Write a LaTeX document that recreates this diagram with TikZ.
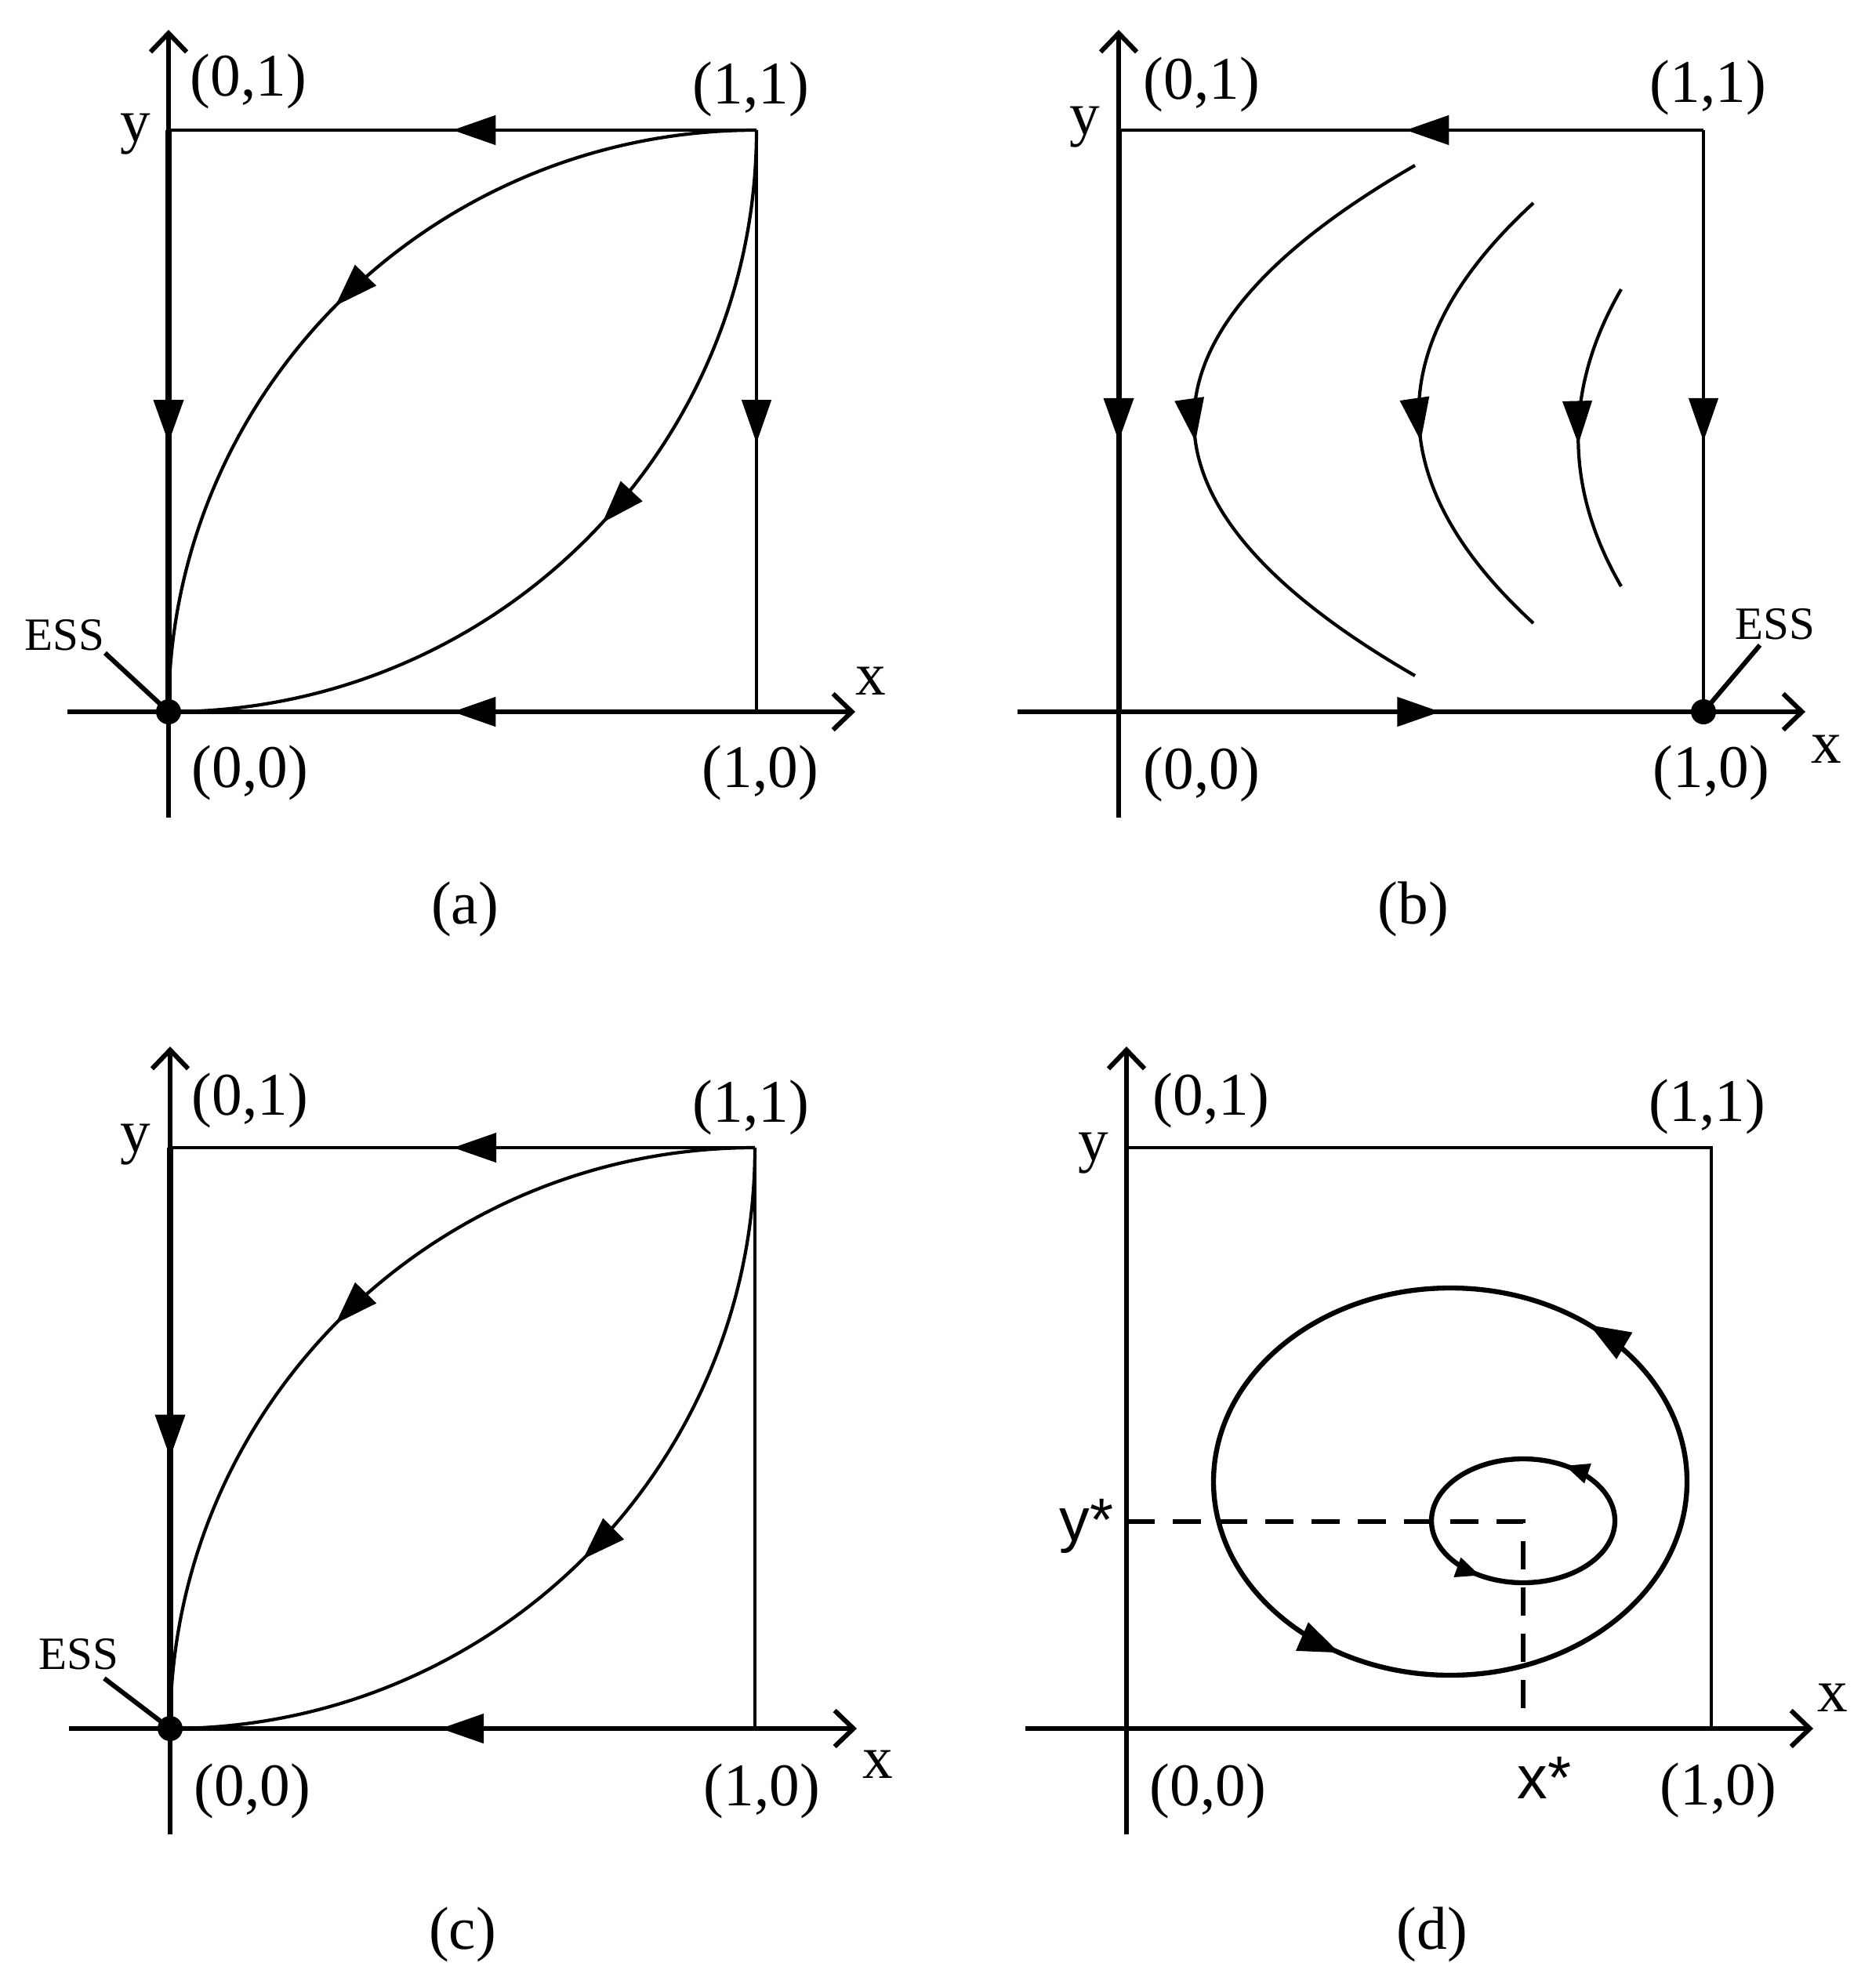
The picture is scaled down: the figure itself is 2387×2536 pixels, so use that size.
\documentclass[tikz,border=0pt]{standalone}
\usepackage{fontspec}
\setmainfont{Liberation Serif}
\newfontfamily\labsans{Liberation Sans}
\usetikzlibrary{arrows.meta,decorations.markings}
\tikzset{
  tri/.tip={Triangle[length=5.5mm,width=3.7mm]},
  trio/.tip={Triangle[length=5.2mm,width=3.8mm]},
  trii/.tip={Triangle[length=3.1mm,width=2.5mm]},
}
\begin{document}
\begin{tikzpicture}[x=0.1mm,y=-0.1mm,
  lab/.style={font=\fontsize{22}{24}\selectfont, inner sep=0pt, anchor=base},
  sanslab/.style={font=\labsans\fontsize{22}{24}\selectfont, inner sep=0pt, anchor=base},
  esslab/.style={font=\fontsize{16.8}{18}\selectfont, inner sep=0pt, anchor=base},
  axis/.style={line width=1.7pt, -{Straight Barb[length=2.4mm,width=4.6mm]}},
  edge/.style={line width=1.3pt},
  thickedge/.style={line width=2pt},
  traj/.style={line width=1.2pt},
  orbit/.style={line width=1.8pt},
  lead/.style={line width=1.7pt},
  dash5/.style={line width=1.5pt, dash pattern=on 3.6mm off 2.3mm},
  mk/.style={postaction={decorate,decoration={markings,mark=at position #1 with {\arrow{tri}}}}},
  mko/.style={postaction={decorate,decoration={markings,mark=at position #1 with {\arrow{trio}}}}},
  mki/.style={postaction={decorate,decoration={markings,mark=at position #1 with {\arrow{trii}}}}},
  dot/.style={fill=black}
]
\fill[white] (0,0) rectangle (2387,2536);
\useasboundingbox (0,0) rectangle (2387,2536);

% ---------------- panel (a) ----------------
\coordinate (aO) at (215,908);
\coordinate (aA) at (965,908);
\coordinate (aB) at (965,166);
\coordinate (aC) at (215,166);
\coordinate (aXs) at (86,908);
\coordinate (aXe) at (1091,908);
\coordinate (aYs) at (215,1043);
\coordinate (aYe) at (215,38);
\coordinate (aE) at (134,833);
\draw[axis] (aXs) -- (aXe);
\draw[axis] (aYs) -- (aYe);
\draw[edge, mk=0.517] (aB) -- (aC);
\draw[thickedge, mk=0.538] (aC) -- (aO);
\draw[edge, mk=0.538] (aB) -- (aA);
\draw[edge, mk=0.517] (aA) -- (aO);
\draw[traj, mk=0.51] (aB) arc[start angle=270, end angle=180, x radius=750, y radius=742];
\draw[traj, mk=0.47] (aB) arc[start angle=0, end angle=90, x radius=750, y radius=742];
\draw[lead] (aE) -- (aO);
\fill[dot] (aO) circle[radius=16];
\node[lab] (a01) at (317,123) {(0,1)};
\node[lab] (a11) at (958,133) {(1,1)};
\node[lab] (a00) at (319,1004) {(0,0)};
\node[lab] (a10) at (970,1004) {(1,0)};
\node[lab] (ay) at (173,181) {y};
\node[lab] (ax) at (1111,886) {x};
\node[esslab] (aess) at (82,829) {ESS};
\node[lab] (acap) at (593,1178) {(a)};

% ---------------- panel (b) ----------------
\coordinate (bO) at (1427,908);
\coordinate (bA) at (2173,908);
\coordinate (bB) at (2173,166);
\coordinate (bC) at (1427,166);
\coordinate (bXs) at (1298,908);
\coordinate (bXe) at (2303,908);
\coordinate (bYs) at (1427,1043);
\coordinate (bYe) at (1427,38);
\coordinate (bE) at (2245,823);
\draw[axis] (bXs) -- (bXe);
\draw[axis] (bYs) -- (bYe);
\draw[edge, mk=0.509] (bB) -- (bC);
\draw[thickedge, mk=0.535] (bC) -- (bO);
\draw[edge, mk=0.535] (bB) -- (bA);
\draw[edge, mk=0.55] (bO) -- (bA);
\coordinate (b1s) at (1805,211);
\coordinate (b1e) at (1805,862);
\coordinate (b2s) at (1956,259);
\coordinate (b2e) at (1956,795);
\coordinate (b3s) at (2068,369);
\coordinate (b3e) at (2068,748);
\draw[traj, mk=0.53] (b1s) .. controls (1429,428) and (1429,645) .. (b1e);
\draw[traj, mk=0.557] (b2s) .. controls (1761,438) and (1761,616) .. (b2e);
\draw[traj, mk=0.52] (b3s) .. controls (1995,495) and (1995,622) .. (b3e);
\draw[lead] (bA) -- (bE);
\fill[dot] (bA) circle[radius=16];
\node[lab] (b01) at (1533,127) {(0,1)};
\node[lab] (b11) at (2179,131) {(1,1)};
\node[lab] (b00) at (1533,1006) {(0,0)};
\node[lab] (b10) at (2183,1004) {(1,0)};
\node[lab] (by) at (1384,172) {y};
\node[lab] (bx) at (2330,973) {x};
\node[esslab] (bess) at (2264,815) {ESS};
\node[lab] (bcap) at (1803,1178) {(b)};

% ---------------- panel (c) ----------------
\coordinate (cO) at (217,2205);
\coordinate (cA) at (963,2205);
\coordinate (cB) at (963,1464);
\coordinate (cC) at (217,1464);
\coordinate (cXs) at (88,2205);
\coordinate (cXe) at (1093,2205);
\coordinate (cYs) at (217,2340);
\coordinate (cYe) at (217,1335);
\coordinate (cE) at (133,2141);
\draw[axis] (cXs) -- (cXe);
\draw[axis] (cYs) -- (cYe);
\draw[edge, mk=0.516] (cB) -- (cC);
\draw[thickedge, mk=0.534] (cC) -- (cO);
\draw[edge] (cB) -- (cA);
\draw[edge, mk=0.5375] (cA) -- (cO);
\draw[traj, mk=0.51] (cB) arc[start angle=270, end angle=180, x radius=746, y radius=741];
\draw[traj, mk=0.50] (cB) arc[start angle=0, end angle=90, x radius=746, y radius=741];
\draw[lead] (cE) -- (cO);
\fill[dot] (cO) circle[radius=16];
\node[lab] (c01) at (319,1422) {(0,1)};
\node[lab] (c11) at (958,1431) {(1,1)};
\node[lab] (c00) at (322,2303) {(0,0)};
\node[lab] (c10) at (972,2303) {(1,0)};
\node[lab] (cy) at (173,1469) {y};
\node[lab] (cx) at (1120,2268) {x};
\node[esslab] (cess) at (100,2129) {ESS};
\node[lab] (ccap) at (590,2486) {(c)};

% ---------------- panel (d) ----------------
\coordinate (dO) at (1437,2205);
\coordinate (dA) at (2183,2205);
\coordinate (dB) at (2183,1464);
\coordinate (dC) at (1437,1464);
\coordinate (dXs) at (1308,2205);
\coordinate (dXe) at (2313,2205);
\coordinate (dYs) at (1437,2340);
\coordinate (dYe) at (1437,1335);
\draw[axis] (dXs) -- (dXe);
\draw[axis] (dYs) -- (dYe);
\draw[edge] (dC) -- (dB) -- (dA);
\coordinate (dYstar) at (1437,1941);
\coordinate (dEq) at (1943,1941);
\coordinate (dXstar) at (1943,2205);
\draw[dash5] (dYstar) -- (dEq) -- (dXstar);
\coordinate (dOut) at (2152,1890);
\coordinate (dIn) at (2060,1940);
\draw[orbit, mko=0.1425, mko=0.666] (dOut) arc[start angle=360, end angle=0, x radius=302, y radius=247];
\draw[orbit, mki=0.163, mki=0.66] (dIn) arc[start angle=360, end angle=0, x radius=117, y radius=79];
\node[lab] (d01) at (1545,1422) {(0,1)};
\node[lab] (d11) at (2178,1430) {(1,1)};
\node[lab] (d00) at (1541,2303) {(0,0)};
\node[lab] (d10) at (2192,2302) {(1,0)};
\node[lab] (dy) at (1395,1480) {y};
\node[lab] (dx) at (2338,2183) {x};
\node[sanslab] (dys) at (1386,1965) {y*};
\node[sanslab] (dxs) at (1970,2294) {x*};
\node[lab] (dcap) at (1827,2486) {(d)};
\end{tikzpicture}
\end{document}
